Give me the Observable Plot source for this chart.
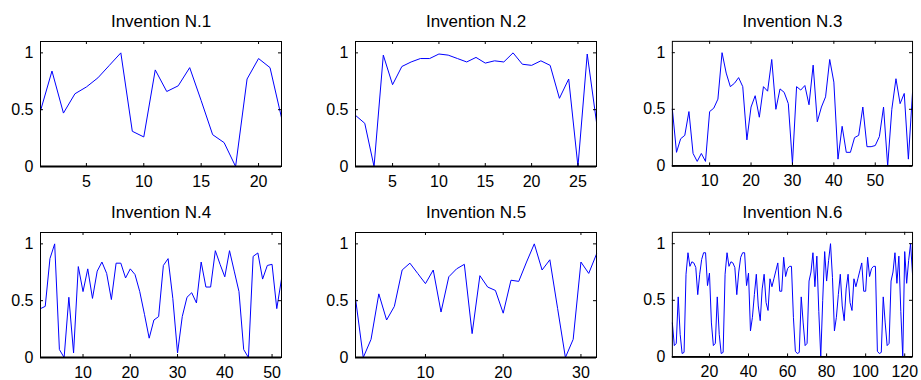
<!DOCTYPE html>
<html><head><meta charset="utf-8">
<script src="https://cdn.jsdelivr.net/npm/d3@7"></script>
<script src="https://cdn.jsdelivr.net/npm/@observablehq/plot@0.6"></script>
<style>
html,body{margin:0;padding:0;background:#fff}
body{width:921px;height:380px;overflow:hidden;position:relative;font-family:"Liberation Sans",Arial,Helvetica,sans-serif;color:#000}
.panel{position:absolute}
</style></head><body>
<script>
const titles = ["Invention N.1","Invention N.2","Invention N.3","Invention N.4","Invention N.5","Invention N.6"];

const inv1 = [0.49,0.84,0.47,0.64,0.70,0.78,0.89,1.00,0.31,0.26,0.85,0.66,0.71,0.87,0.58,0.28,0.21,0.00,0.77,0.95,0.87,0.43];
const inv2 = [0.45,0.38,0.00,0.98,0.72,0.88,0.92,0.95,0.95,0.99,0.98,0.95,0.92,0.96,0.91,0.93,0.92,1.00,0.90,0.89,0.93,0.89,0.60,0.77,0.00,0.99,0.39];
const inv3 = [0.50,0.12,0.24,0.27,0.48,0.11,0.04,0.11,0.04,0.48,0.51,0.59,1.00,0.82,0.70,0.73,0.78,0.70,0.23,0.52,0.62,0.43,0.70,0.66,0.94,0.50,0.68,0.65,0.55,0.02,0.70,0.67,0.71,0.54,0.89,0.39,0.52,0.61,0.94,0.74,0.06,0.35,0.12,0.12,0.25,0.27,0.52,0.17,0.17,0.18,0.26,0.52,0.00,0.50,0.77,0.55,0.64,0.06,0.65];
const inv4 = [0.43,0.45,0.87,1.00,0.07,0.00,0.53,0.04,0.80,0.58,0.78,0.52,0.76,0.84,0.74,0.51,0.83,0.83,0.70,0.78,0.73,0.58,0.38,0.17,0.33,0.36,0.81,0.87,0.52,0.04,0.36,0.53,0.57,0.48,0.84,0.62,0.62,0.94,0.82,0.71,0.94,0.76,0.58,0.07,0.00,0.89,0.92,0.69,0.81,0.82,0.43,0.69];
const inv5 = [0.52,0.00,0.16,0.56,0.33,0.45,0.77,0.83,0.74,0.65,0.77,0.40,0.71,0.78,0.82,0.21,0.72,0.62,0.59,0.39,0.68,0.67,0.84,1.00,0.77,0.86,0.43,0.00,0.16,0.84,0.74,0.91];
const inv6 = [0.30,0.10,0.12,0.53,0.20,0.03,0.04,0.73,0.92,0.80,0.84,0.83,0.79,0.55,0.73,0.86,0.92,0.92,0.63,0.74,
              0.30,0.10,0.12,0.53,0.20,0.03,0.04,0.73,0.92,0.80,0.84,0.83,0.79,0.55,0.75,0.88,0.92,0.92,0.63,0.74,
              0.23,0.35,0.55,0.73,0.45,0.32,0.60,0.73,0.48,0.41,0.69,0.62,0.69,0.76,0.83,0.58,0.58,0.88,0.71,0.78,0.80,0.80,
              0.35,0.05,0.03,0.04,0.53,0.30,0.10,0.12,0.67,0.75,0.92,0.62,0.89,0.40,0.00,0.50,0.93,0.67,0.85,1.00,0.70,
              0.23,0.35,0.55,0.73,0.45,0.32,0.60,0.73,0.48,0.41,0.69,0.62,0.69,0.76,0.83,0.58,0.58,0.88,0.71,0.78,0.80,0.80,
              0.05,0.03,0.04,0.53,0.30,0.10,0.12,0.67,0.75,0.92,0.65,0.89,0.40,0.00,0.93,0.65,0.85,1.00,0.73];

const xTicks1 = [5,10,15,20];
const xTicks2 = [5,10,15,20,25];
const xTicks3 = [10,20,30,40,50];
const xTicks4 = [10,20,30,40,50];
const xTicks5 = [10,20,30];
const xTicks6 = [20,40,60,80,100,120];
const yTicks = [0,0.5,1];
const yTickLabels = ["0","0.5","1"];

const series = [inv1,inv2,inv3,inv4,inv5,inv6];
const xTickSets = [xTicks1,xTicks2,xTicks3,xTicks4,xTicks5,xTicks6];

const colLeft = [0,315,632];
const rowTop = [0,191];
const W = 290, H = 190, ML = 40, MR = 9, MT = 41, MB = 24;
const frameW = W - ML - MR, frameH = H - MT - MB;
const TL = 3; // inward tick length

series.forEach((vals, k) => {
  const data = vals.map((v, i) => ({x: i + 1, y: v}));
  const n = vals.length;
  const xt = xTickSets[k];
  const chart = Plot.plot({
    width: W, height: H,
    marginLeft: ML, marginRight: MR, marginTop: MT, marginBottom: MB,
    style: {fontFamily: '"Liberation Sans", Arial, Helvetica, sans-serif', color: "#000", background: "transparent", overflow: "visible"},
    x: {domain: [1, n], label: null},
    y: {domain: [0, 1.1], label: null},
    marks: [
      Plot.line(data, {x: "x", y: "y", stroke: "#0000ff", strokeWidth: 1}),
      Plot.ruleX(xt, {stroke: "#000", strokeWidth: 1, insetTop: frameH - TL}),
      Plot.ruleX(xt, {stroke: "#000", strokeWidth: 1, insetBottom: frameH - TL}),
      Plot.ruleY(yTicks, {stroke: "#000", strokeWidth: 1, insetRight: frameW - TL}),
      Plot.ruleY(yTicks, {stroke: "#000", strokeWidth: 1, insetLeft: frameW - TL}),
      Plot.frame({stroke: "#000", strokeWidth: 1}),
      Plot.ruleY([0], {stroke: "#000", strokeWidth: 1.8}),
      Plot.axisX(xt, {tickSize: 0, tickPadding: 9, fontSize: 16, label: null, tickFormat: d => String(d)}),
      Plot.axisY(yTicks, {tickSize: 0, tickPadding: 7, fontSize: 16, label: null, tickFormat: (d, i) => yTickLabels[i]}),
      Plot.text([titles[k]], {text: d => d, frameAnchor: "top", dy: -20, lineAnchor: "middle", fontSize: 17, fill: "#000"})
    ]
  });
  const div = document.createElement("div");
  div.className = "panel";
  div.style.left = colLeft[k % 3] + "px";
  div.style.top = rowTop[Math.floor(k / 3)] + "px";
  div.appendChild(chart);
  document.body.appendChild(div);
});
</script>
</body></html>
